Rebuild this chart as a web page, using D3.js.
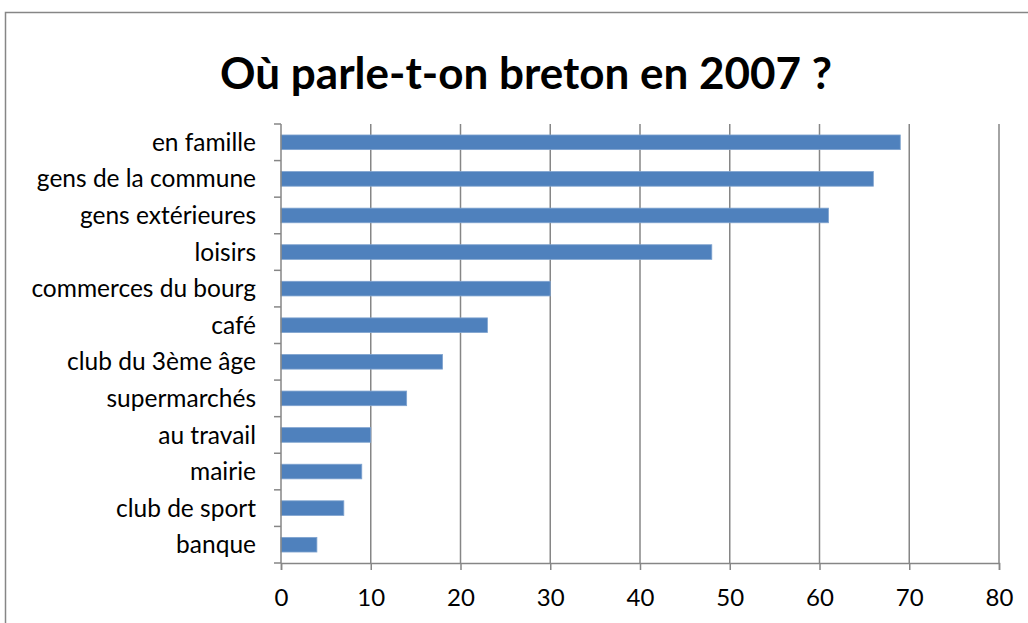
<!DOCTYPE html>
<html>
<head>
<meta charset="utf-8">
<script src="https://cdn.jsdelivr.net/npm/d3@7"></script>
<style>
  body { margin: 0; background: #fff; }
  svg { display: block; }
</style>
</head>
<body>
<figure id="bar" style="margin:0"></figure>
<script>
const categories = ["en famille", "gens de la commune", "gens extérieures", "loisirs",
  "commerces du bourg", "café", "club du 3ème âge", "supermarchés", "au travail",
  "mairie", "club de sport", "banque"];
const values = [69, 66, 61, 48, 30, 23, 18, 14, 10, 9, 7, 4];
const xTicks = [0, 10, 20, 30, 40, 50, 60, 70, 80];
const title = "Où parle-t-on breton en 2007 ?";

const W = 1028, H = 623;
const plotLeft = 281, plotRight = 999, plotTop = 124, plotBottom = 563;
const font = "Lato, 'Open Sans', sans-serif";
const grey = "#868686";

const svg = d3.select("figure#bar")
  .append("svg")
  .attr("width", W)
  .attr("height", H);

// chart border
svg.append("rect")
  .attr("x", 5.5).attr("y", 12.5)
  .attr("width", 1100).attr("height", 700)
  .attr("fill", "none")
  .attr("stroke", grey)
  .attr("stroke-width", 1.5);

svg.append("text")
  .attr("x", 526).attr("y", 89)
  .attr("text-anchor", "middle")
  .style("font-family", font)
  .style("font-weight", "bold")
  .style("font-size", "44px")
  .text(title);

const x = d3.scaleLinear().domain([0, 80]).range([plotLeft, plotRight]);
const y = d3.scaleBand().domain(categories).range([plotTop, plotBottom]).paddingInner(0.6).paddingOuter(0.3);

// gridlines
svg.append("g")
  .selectAll("line")
  .data(xTicks.slice(1))
  .enter()
  .append("line")
  .attr("x1", d => x(d)).attr("x2", d => x(d))
  .attr("y1", plotTop).attr("y2", plotBottom)
  .attr("stroke", grey)
  .attr("stroke-width", 1.5);

// bars
svg.append("g")
  .selectAll("rect")
  .data(categories)
  .enter()
  .append("rect")
  .attr("x", x(0))
  .attr("y", d => y(d))
  .attr("width", (d, i) => x(values[i]) - x(0))
  .attr("height", y.bandwidth())
  .attr("fill", "#4F81BD")
  .attr("stroke", "#7FA3CF")
  .attr("stroke-width", 0.8);

// x axis
const xAxis = svg.append("g")
  .attr("transform", "translate(0," + plotBottom + ")")
  .call(d3.axisBottom(x).tickValues(xTicks).tickSize(7).tickPadding(19).tickFormat(d3.format("d")));
xAxis.select(".domain").attr("stroke", grey).attr("stroke-width", 1.5);
xAxis.selectAll(".tick line").attr("stroke", grey).attr("stroke-width", 1.5);
xAxis.selectAll("text")
  .style("font-family", font)
  .style("font-size", "24px")
  .attr("fill", "#000");

// y axis: ticks at band boundaries
const yAxis = svg.append("g")
  .attr("transform", "translate(" + plotLeft + ",0)");
const step = (plotBottom - plotTop) / categories.length;
yAxis.append("line")
  .attr("x1", 0).attr("x2", 0)
  .attr("y1", plotTop).attr("y2", plotBottom)
  .attr("stroke", grey).attr("stroke-width", 1.5);
yAxis.selectAll("line.tk")
  .data(d3.range(categories.length + 1))
  .enter()
  .append("line")
  .attr("class", "tk")
  .attr("x1", -7).attr("x2", 0)
  .attr("y1", i => plotTop + i * step).attr("y2", i => plotTop + i * step)
  .attr("stroke", grey).attr("stroke-width", 1.5);
yAxis.selectAll("text")
  .data(categories)
  .enter()
  .append("text")
  .attr("x", -25)
  .attr("y", d => y(d) + y.bandwidth() / 2)
  .attr("dy", "0.35em")
  .attr("text-anchor", "end")
  .style("font-family", font)
  .style("font-size", "24.5px")
  .text(d => d);
</script>
</body>
</html>
